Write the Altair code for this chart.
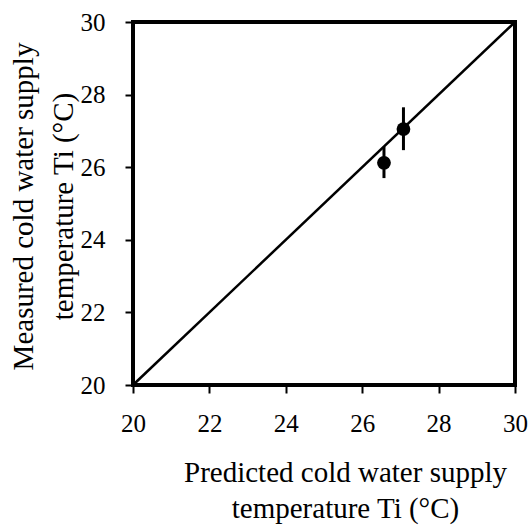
import altair as alt
import pandas as pd

# Data
predicted = [26.57, 27.08]
measured = [26.12, 27.05]
err_low = [25.70, 26.47]
err_high = [26.56, 27.65]
line_x = [20, 30]
line_y = [20, 30]
ticks = [20, 22, 24, 26, 28, 30]

pts = pd.DataFrame({"pred": predicted, "meas": measured, "lo": err_low, "hi": err_high})
diag = pd.DataFrame({"x": line_x, "y": line_y})

FONT = "Liberation Serif"

xscale = alt.Scale(domain=[20, 30], nice=False, zero=False)
yscale = alt.Scale(domain=[20, 30], nice=False, zero=False)

xaxis = alt.Axis(
    values=ticks, title=["Predicted cold water supply", "temperature Ti (°C)"],
    titleX=212, titleY=96, titleBaseline="alphabetic",
    titleLineHeight=36, labelFlush=False,
)
yaxis = alt.Axis(
    values=ticks, title=["Measured cold water supply", "temperature Ti (°C)"],
    titleX=-101, titleY=184, titleBaseline="alphabetic", titleAngle=-90,
    titleLineHeight=40, labelFlush=False,
)

line = alt.Chart(diag).mark_line(color="black", strokeWidth=2.5).encode(
    x=alt.X("x:Q", scale=xscale, axis=xaxis),
    y=alt.Y("y:Q", scale=yscale, axis=yaxis),
)

bars = alt.Chart(pts).mark_rule(color="black", strokeWidth=3).encode(
    x=alt.X("pred:Q", scale=xscale),
    y=alt.Y("lo:Q", scale=yscale),
    y2="hi:Q",
)

dots = alt.Chart(pts).mark_circle(color="black", opacity=1, size=190).encode(
    x=alt.X("pred:Q", scale=xscale),
    y=alt.Y("meas:Q", scale=yscale),
)

chart = (line + bars + dots).properties(
    width=382, height=363,
    autosize=alt.AutoSizeParams(type="none"),
    padding={"left": 133, "top": 22, "right": 15, "bottom": 142},
).configure_view(
    stroke="black", strokeWidth=4,
).configure_axis(
    grid=False, domain=False,
    tickColor="black", tickWidth=2, tickSize=8,
    labelFont=FONT, labelFontSize=25, labelColor="black",
    titleFont=FONT, titleFontSize=29, titleColor="black", titleFontWeight="normal",
).configure_axisX(
    labelPadding=18,
).configure_axisY(
    labelPadding=20,
)

chart.save("out.html", embed_options={"renderer": "svg", "actions": False})
